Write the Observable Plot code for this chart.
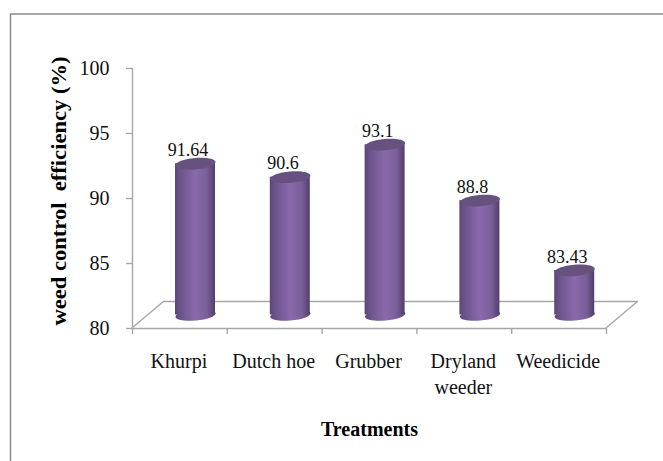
<!DOCTYPE html>
<html><head><meta charset="utf-8">
<style>html,body{margin:0;padding:0;background:#fff}svg{display:block}svg text{font-family:"Liberation Serif",serif}</style>
<script src="https://cdn.jsdelivr.net/npm/d3@7"></script>
<script src="https://cdn.jsdelivr.net/npm/@observablehq/plot@0.6"></script>
</head><body><div id="chart"></div>
<script>
const treatments = ["Khurpi", "Dutch hoe", "Grubber", "Dryland\nweeder", "Weedicide"];
const efficiency = [91.64, 90.6, 93.1, 88.8, 83.43];
const valueLabels = ["91.64", "90.6", "93.1", "88.8", "83.43"];
const yTicks = [80, 85, 90, 95, 100];
const yTitle = "weed control  efficiency (%)";
const xTitle = "Treatments";

const serif = "Liberation Serif";
const axisColor = "#a6a6a6";
const depthX = 32, depthY = 27;
const barDx = 15.6, barDy = -13.5;
const halfBand = 47.4;

function tiltedEllipse(rx, ry, deg) {
  const a = deg * Math.PI / 180, c = Math.cos(a), s = Math.sin(a), k = 0.5523;
  const P = (x, y) => [x * c - y * s, x * s + y * c];
  return {
    draw(ctx) {
      const pts = [
        [[rx, k * ry], [k * rx, ry], [0, ry]],
        [[-k * rx, ry], [-rx, k * ry], [-rx, 0]],
        [[-rx, -k * ry], [-k * rx, -ry], [0, -ry]],
        [[k * rx, -ry], [rx, -k * ry], [rx, 0]]
      ];
      ctx.moveTo(...P(rx, 0));
      for (const [p1, p2, p3] of pts) ctx.bezierCurveTo(...P(...p1), ...P(...p2), ...P(...p3));
      ctx.closePath();
    }
  };
}
const capSymbol = tiltedEllipse(20.1, 5.6, -5);

const rows = treatments.map((t, i) => ({t, v: efficiency[i], label: valueLabels[i]}));

const plot = Plot.plot({
  width: 663, height: 461,
  marginLeft: 132, marginRight: 57, marginTop: 68, marginBottom: 133,
  style: {background: "#fff", fontFamily: serif, color: "#111"},
  x: {domain: treatments, padding: 0, round: false, label: null},
  y: {domain: [80, 100], ticks: yTicks, label: null},
  marks: [
    // floor of the 3D plot area
    Plot.ruleY([80], {stroke: axisColor, strokeWidth: 1.6, dx: depthX, dy: -depthY}),
    (index, {x, y}) => {
      const [x0, x1] = x.range(), y0 = y(80);
      const s = d3.create("svg:g").attr("stroke", axisColor).attr("stroke-width", 1.4).attr("fill", "none");
      for (const px of [x0, x1])
        s.append("line").attr("x1", px).attr("y1", y0).attr("x2", px + depthX).attr("y2", y0 - depthY);
      return s.node();
    },
    Plot.ruleY([80], {stroke: axisColor, strokeWidth: 1.6}),
    // axes
    Plot.axisY({ticks: yTicks, tickSize: 6, tickPadding: 17, fontSize: 20, fontVariant: "normal", stroke: axisColor, strokeWidth: 1.4, label: null, fill: "#111"}),
    Plot.ruleX(treatments.slice(0, 1), {x: d => d, dx: -halfBand, y1: () => 80, y2: () => 100, stroke: axisColor, strokeWidth: 1.4}),
    Plot.ruleX(treatments, {x: d => d, dx: -halfBand, y1: () => 80, y2: () => 79.54, stroke: axisColor, strokeWidth: 1.4}),
    Plot.ruleX(treatments.slice(-1), {x: d => d, dx: halfBand, y1: () => 80, y2: () => 79.54, stroke: axisColor, strokeWidth: 1.4}),
    Plot.axisX({tickSize: 0, tickPadding: 21.5, dx: -1, fontSize: 20, lineHeight: 1.3, label: null, fill: "#111", lineAnchor: "top"}),
    // cylinders
    Plot.dot(rows, {x: "t", y: () => 80, dx: barDx, dy: barDy, symbol: capSymbol, fill: "url(#cyl)", stroke: "none"}),
    Plot.barY(rows, {x: "t", y1: () => 80, y2: "v", dx: barDx, dy: barDy, insetLeft: 27.4, insetRight: 27.4, fill: "url(#cyl)"}),
    Plot.dot(rows, {x: "t", y: "v", dx: barDx, dy: barDy, symbol: capSymbol, fill: "#66517f", stroke: "none"}),
    // value labels
    Plot.text(rows, {x: "t", y: "v", text: "label", dx: 8.2, dy: -27, fontSize: 18, fill: "#111"}),
    // axis titles
    Plot.text([yTitle], {frameAnchor: "left", textAnchor: "middle", rotate: -90, dx: -73, dy: -7.5, fontSize: 20, fontWeight: "bold", fill: "#000", className: "ytitle"}),
    Plot.text([xTitle], {frameAnchor: "bottom", dy: 107, fontSize: 20, fontWeight: "bold", fill: "#000"})
  ]
});

const svg = d3.select(plot);
const grad = svg.insert("defs", ":first-child").append("linearGradient")
  .attr("id", "cyl").attr("x1", "0").attr("x2", "1").attr("y1", "0").attr("y2", "0");
[[0, "#5a4778"], [0.12, "#6a5389"], [0.5, "#8a69ab"], [0.8, "#7a5e9a"], [1, "#503f69"]]
  .forEach(([o, c]) => grad.append("stop").attr("offset", o).attr("stop-color", c));
svg.selectAll(".ytitle text").attr("textLength", 269).attr("lengthAdjust", "spacingAndGlyphs").style("white-space", "pre");
// chart-area border: top and left edges only
svg.append("path").attr("d", "M10.5,461V14H663").attr("fill", "none").attr("stroke", "#8c8c8c").attr("stroke-width", 1.5);
document.getElementById("chart").appendChild(plot);
</script></body></html>
